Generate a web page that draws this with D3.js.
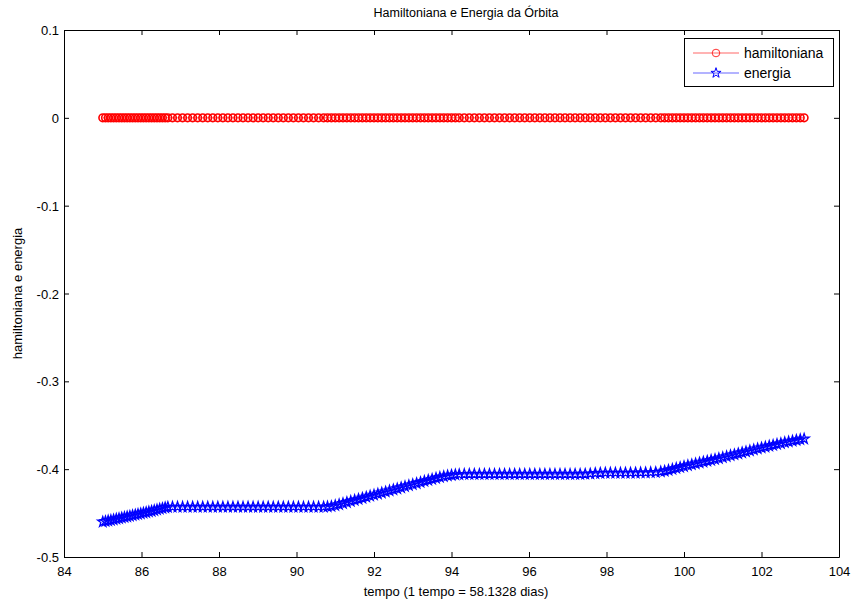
<!DOCTYPE html>
<html>
<head>
<meta charset="utf-8">
<script src="https://cdn.jsdelivr.net/npm/d3@7"></script>
<style>
  body { margin: 0; background: #fff; }
  svg { display: block; font-family: "Liberation Sans", Arial, sans-serif; }
</style>
</head>
<body>
<svg id="chart" width="853" height="603"></svg>
<script>
const title = "Hamiltoniana e Energia da Órbita";
const xLabel = "tempo (1 tempo = 58.1328 dias)";
const yLabel = "hamiltoniana e energia";
const seriesNames = ["hamiltoniana", "energia"];
const xTicks = [84, 86, 88, 90, 92, 94, 96, 98, 100, 102, 104];
const yTicks = [0.1, 0, -0.1, -0.2, -0.3, -0.4, -0.5];

const time = [
  85.00, 85.07, 85.14, 85.21, 85.28, 85.35, 85.42, 85.49, 85.56, 85.63,
  85.70, 85.77, 85.84, 85.91, 85.98, 86.05, 86.12, 86.19, 86.26, 86.33,
  86.40, 86.47, 86.54, 86.61, 86.68,
  86.80, 86.93, 87.06, 87.19, 87.32, 87.45, 87.58, 87.71, 87.84, 87.97,
  88.10, 88.23, 88.36, 88.49, 88.62, 88.75, 88.88, 89.01, 89.14, 89.27,
  89.40, 89.53, 89.66, 89.79, 89.92, 90.05, 90.18, 90.31, 90.44, 90.57,
  90.70,
  90.80, 90.90, 91.00, 91.10, 91.20, 91.30, 91.40, 91.50, 91.60, 91.70,
  91.80, 91.90, 92.00, 92.10, 92.20, 92.30, 92.40, 92.50, 92.60, 92.70,
  92.80, 92.90, 93.00, 93.10, 93.20, 93.30, 93.40, 93.50, 93.60, 93.70,
  93.80, 93.90, 94.00, 94.10, 94.20,
  94.33, 94.46, 94.59, 94.72, 94.85, 94.98, 95.11, 95.24, 95.37, 95.50,
  95.63, 95.76, 95.89, 96.02, 96.15, 96.28, 96.41, 96.54, 96.67, 96.80,
  96.93, 97.06, 97.19, 97.32, 97.45, 97.58, 97.71, 97.84, 97.97, 98.10,
  98.23, 98.36, 98.49, 98.62, 98.75, 98.88, 99.01, 99.14, 99.27,
  99.40, 99.50, 99.60, 99.70, 99.80, 99.90, 100.00, 100.10, 100.20, 100.30,
  100.40, 100.50, 100.60, 100.70, 100.80, 100.90, 101.00, 101.10, 101.20, 101.30,
  101.40, 101.50, 101.60, 101.70, 101.80, 101.90, 102.00, 102.10, 102.20, 102.30,
  102.40, 102.50, 102.60, 102.70, 102.80, 102.90, 103.00, 103.10
];

const hamiltoniana = [
  0, 0, 0, 0, 0, 0, 0, 0, 0, 0,
  0, 0, 0, 0, 0, 0, 0, 0, 0, 0,
  0, 0, 0, 0, 0,
  0, 0, 0, 0, 0, 0, 0, 0, 0, 0,
  0, 0, 0, 0, 0, 0, 0, 0, 0, 0,
  0, 0, 0, 0, 0, 0, 0, 0, 0, 0,
  0,
  0, 0, 0, 0, 0, 0, 0, 0, 0, 0,
  0, 0, 0, 0, 0, 0, 0, 0, 0, 0,
  0, 0, 0, 0, 0, 0, 0, 0, 0, 0,
  0, 0, 0, 0, 0,
  0, 0, 0, 0, 0, 0, 0, 0, 0, 0,
  0, 0, 0, 0, 0, 0, 0, 0, 0, 0,
  0, 0, 0, 0, 0, 0, 0, 0, 0, 0,
  0, 0, 0, 0, 0, 0, 0, 0, 0,
  0, 0, 0, 0, 0, 0, 0, 0, 0, 0,
  0, 0, 0, 0, 0, 0, 0, 0, 0, 0,
  0, 0, 0, 0, 0, 0, 0, 0, 0, 0,
  0, 0, 0, 0, 0, 0, 0, 0
];

const energia = [
  -0.4600, -0.4594, -0.4588, -0.4582, -0.4575, -0.4568, -0.4561, -0.4554, -0.4548, -0.4541,
  -0.4534, -0.4527, -0.4520, -0.4513, -0.4506, -0.4499, -0.4492, -0.4485, -0.4478, -0.4470,
  -0.4462, -0.4454, -0.4446, -0.4438, -0.4432,
  -0.4430, -0.4430, -0.4431, -0.4430, -0.4430, -0.4431, -0.4430, -0.4430, -0.4431, -0.4430,
  -0.4430, -0.4431, -0.4430, -0.4430, -0.4431, -0.4430, -0.4430, -0.4431, -0.4430, -0.4430,
  -0.4431, -0.4430, -0.4430, -0.4431, -0.4430, -0.4430, -0.4431, -0.4430, -0.4430, -0.4430,
  -0.4430,
  -0.4428, -0.4423, -0.4414, -0.4403, -0.4390, -0.4378, -0.4366, -0.4354, -0.4342, -0.4330,
  -0.4318, -0.4306, -0.4294, -0.4282, -0.4270, -0.4258, -0.4246, -0.4234, -0.4222, -0.4210,
  -0.4198, -0.4186, -0.4174, -0.4162, -0.4150, -0.4138, -0.4126, -0.4114, -0.4102, -0.4092,
  -0.4083, -0.4075, -0.4068, -0.4063, -0.4060,
  -0.4058, -0.4057, -0.4057, -0.4058, -0.4057, -0.4057, -0.4058, -0.4057, -0.4057, -0.4058,
  -0.4057, -0.4057, -0.4058, -0.4057, -0.4057, -0.4058, -0.4057, -0.4057, -0.4058, -0.4057,
  -0.4057, -0.4058, -0.4057, -0.4057, -0.4056, -0.4053, -0.4048, -0.4045, -0.4044, -0.4044,
  -0.4044, -0.4044, -0.4043, -0.4043, -0.4042, -0.4041, -0.4040, -0.4038, -0.4036,
  -0.4030, -0.4022, -0.4012, -0.4001, -0.3990, -0.3979, -0.3968, -0.3958, -0.3948, -0.3938,
  -0.3928, -0.3918, -0.3908, -0.3898, -0.3888, -0.3878, -0.3867, -0.3856, -0.3845, -0.3834,
  -0.3823, -0.3812, -0.3801, -0.3790, -0.3779, -0.3768, -0.3757, -0.3747, -0.3737, -0.3727,
  -0.3717, -0.3707, -0.3697, -0.3688, -0.3679, -0.3670, -0.3662, -0.3655
];

const svg = d3.select("#chart");
const W = 853, H = 603;
const m = { left: 64, right: 14, top: 30, bottom: 46 };
const x = d3.scaleLinear().domain([84, 104]).range([m.left, W - m.right]);
const y = d3.scaleLinear().domain([-0.5, 0.1]).range([H - m.bottom, m.top]);

svg.append("rect").attr("width", W).attr("height", H).attr("fill", "#fff");

const fmtY = d => d === 0 ? "0" : d3.format(".1f")(d).replace("\u2212", "-");
const tickLen = 5;
const FS = 13;

const gx = svg.append("g").attr("transform", `translate(0,${y(-0.5)})`)
  .call(d3.axisBottom(x).tickValues(xTicks).tickSizeInner(-tickLen).tickSizeOuter(0).tickPadding(10).tickFormat(d3.format("d")));
const gxt = svg.append("g").attr("transform", `translate(0,${y(0.1)})`)
  .call(d3.axisTop(x).tickValues(xTicks).tickSizeInner(-tickLen).tickSizeOuter(0).tickFormat(""));
const gy = svg.append("g").attr("transform", `translate(${x(84)},0)`)
  .call(d3.axisLeft(y).tickValues(yTicks).tickSizeInner(-tickLen).tickSizeOuter(0).tickPadding(5).tickFormat(fmtY));
const gyr = svg.append("g").attr("transform", `translate(${x(104)},0)`)
  .call(d3.axisRight(y).tickValues(yTicks).tickSizeInner(-tickLen).tickSizeOuter(0).tickFormat(""));

[gx, gxt, gy, gyr].forEach(g => {
  g.select(".domain").attr("stroke", "#000").attr("stroke-width", 1);
  g.selectAll(".tick line").attr("stroke", "#000").attr("stroke-width", 1);
  g.selectAll(".tick text").attr("fill", "#000").attr("font-size", FS)
    .attr("font-family", "'Liberation Sans', Arial, sans-serif");
});
gy.selectAll(".tick text").attr("dy", "0.35em");

const pts = time.map((t, i) => ({ t, h: hamiltoniana[i], e: energia[i] }));
const lineH = d3.line().x(d => x(d.t)).y(d => y(d.h));
const lineE = d3.line().x(d => x(d.t)).y(d => y(d.e));

const starPath = d3.symbol().type(d3.symbolStar).size(32)();
const circR = 3.8;

const plot = svg.append("g");
plot.append("path").datum(pts).attr("d", lineH).attr("fill", "none").attr("stroke", "#ff0000").attr("stroke-width", 0.6);
plot.selectAll("circle.h").data(pts).join("circle").attr("class", "h")
  .attr("cx", d => x(d.t)).attr("cy", d => y(d.h)).attr("r", circR)
  .attr("fill", "none").attr("stroke", "#ff0000").attr("stroke-width", 1.6);

plot.append("path").datum(pts).attr("d", lineE).attr("fill", "none").attr("stroke", "#0000ff").attr("stroke-width", 0.6);
plot.selectAll("path.e").data(pts).join("path").attr("class", "e")
  .attr("d", starPath)
  .attr("transform", d => `translate(${x(d.t)},${y(d.e)})`)
  .attr("fill", "none").attr("stroke", "#0000ff").attr("stroke-width", 1.3);

svg.append("text").attr("x", 466).attr("y", 17).attr("text-anchor", "middle")
  .attr("font-size", 12.5).attr("fill", "#000").text(title);
svg.append("text").attr("x", 456).attr("y", 596).attr("text-anchor", "middle")
  .attr("font-size", FS).attr("fill", "#000").text(xLabel);
svg.append("text").attr("transform", `translate(22,${(y(0.1) + y(-0.5)) / 2}) rotate(-90)`)
  .attr("text-anchor", "middle").attr("font-size", FS).attr("fill", "#000").text(yLabel);

const lg = svg.append("g");
lg.append("rect").attr("x", 684.5).attr("y", 38.5).attr("width", 149).attr("height", 48)
  .attr("fill", "#fff").attr("stroke", "#000").attr("stroke-width", 1);
const rows = [
  { name: seriesNames[0], color: "#ff0000", y: 53, marker: "circle" },
  { name: seriesNames[1], color: "#0000ff", y: 73, marker: "star" }
];
rows.forEach(r => {
  lg.append("line").attr("x1", 693).attr("x2", 739).attr("y1", r.y).attr("y2", r.y)
    .attr("stroke", r.color).attr("stroke-width", 0.6);
  if (r.marker === "circle") {
    lg.append("circle").attr("cx", 716).attr("cy", r.y).attr("r", circR)
      .attr("fill", "none").attr("stroke", r.color).attr("stroke-width", 0.8);
  } else {
    lg.append("path").attr("d", starPath).attr("transform", `translate(716,${r.y})`)
      .attr("fill", "none").attr("stroke", r.color).attr("stroke-width", 1);
  }
  lg.append("text").attr("x", 744).attr("y", r.y).attr("dy", "0.35em")
    .attr("font-size", 14).attr("fill", "#000").text(r.name);
});
</script>
</body>
</html>
